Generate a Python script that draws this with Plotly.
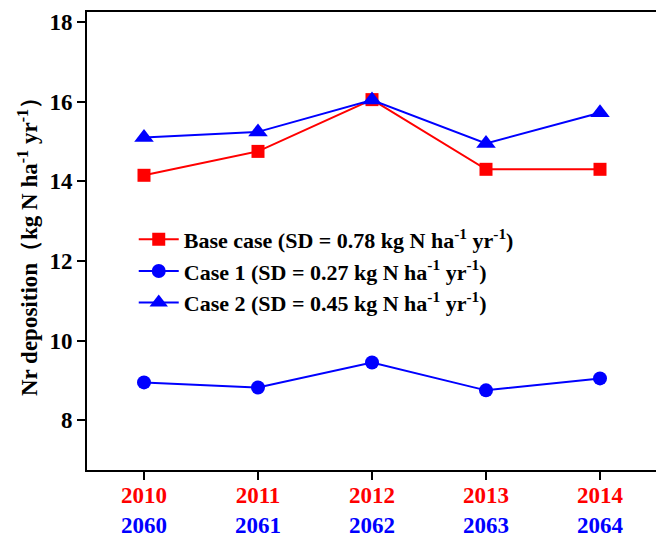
import plotly.graph_objects as go

years_base = [2010, 2011, 2012, 2013, 2014]
years_future = [2060, 2061, 2062, 2063, 2064]
base_case = [14.15, 14.75, 16.05, 14.3, 14.3]
case1 = [8.95, 8.82, 9.45, 8.75, 9.05]
case2 = [15.1, 15.24, 16.04, 14.95, 15.72]
y_ticks = [8, 10, 12, 14, 16, 18]

FONT = "Liberation Serif"

ticktext = [f"<span style='color:#ff0000'>{a}</span><br><span style='color:#0000ff'>{b}</span>"
            for a, b in zip(years_base, years_future)]

fig = go.Figure()
fig.add_trace(go.Scatter(
    x=years_base, y=base_case, mode="lines+markers",
    name="Base case (SD = 0.78 kg N ha<sup>-1</sup> yr<sup>-1</sup>)",
    line=dict(color="#ff0000", width=2),
    marker=dict(symbol="square", size=13, color="#ff0000")))
fig.add_trace(go.Scatter(
    x=years_base, y=case1, mode="lines+markers",
    name="Case 1 (SD = 0.27 kg N ha<sup>-1</sup> yr<sup>-1</sup>)",
    line=dict(color="#0000ff", width=2),
    marker=dict(symbol="circle", size=14, color="#0000ff")))
fig.add_trace(go.Scatter(
    x=years_base, y=case2, mode="lines+markers",
    name="Case 2 (SD = 0.45 kg N ha<sup>-1</sup> yr<sup>-1</sup>)",
    line=dict(color="#0000ff", width=2),
    marker=dict(symbol="triangle-up", size=17, color="#0000ff")))

fig.update_layout(
    width=664, height=538,
    margin=dict(l=79, r=15, t=2, b=76),
    paper_bgcolor="white", plot_bgcolor="white",
    font=dict(family=FONT, size=20, color="black", weight="bold"),
    showlegend=True,
    legend=dict(x=0.082, y=0.549, xanchor="left", yanchor="top",
                bgcolor="rgba(0,0,0,0)", font=dict(size=22, family=FONT, weight="bold"),
                tracegroupgap=0, itemwidth=40),
)
fig.update_xaxes(
    range=[2009.5, 2014.5], tickvals=years_base, ticktext=ticktext,
    showline=True, linecolor="black", linewidth=2, mirror=True,
    ticks="outside", ticklen=8, tickwidth=2, tickcolor="black",
    ticklabelstandoff=-5,
    showgrid=False, zeroline=False,
    tickfont=dict(family=FONT, size=23, weight="bold"))
fig.update_yaxes(
    range=[6.75, 18.25], tickvals=y_ticks,
    showline=True, linecolor="black", linewidth=2, mirror=True,
    ticks="outside", ticklen=8, tickwidth=2, tickcolor="black",
    showgrid=False, zeroline=False,
    tickfont=dict(family=FONT, size=23, weight="bold"),
    title=dict(text="Nr deposition（kg N ha<sup>-1</sup> yr<sup>-1</sup>）",
               font=dict(family=FONT, size=23, weight="bold"), standoff=5))

fig.write_html("out.html")
